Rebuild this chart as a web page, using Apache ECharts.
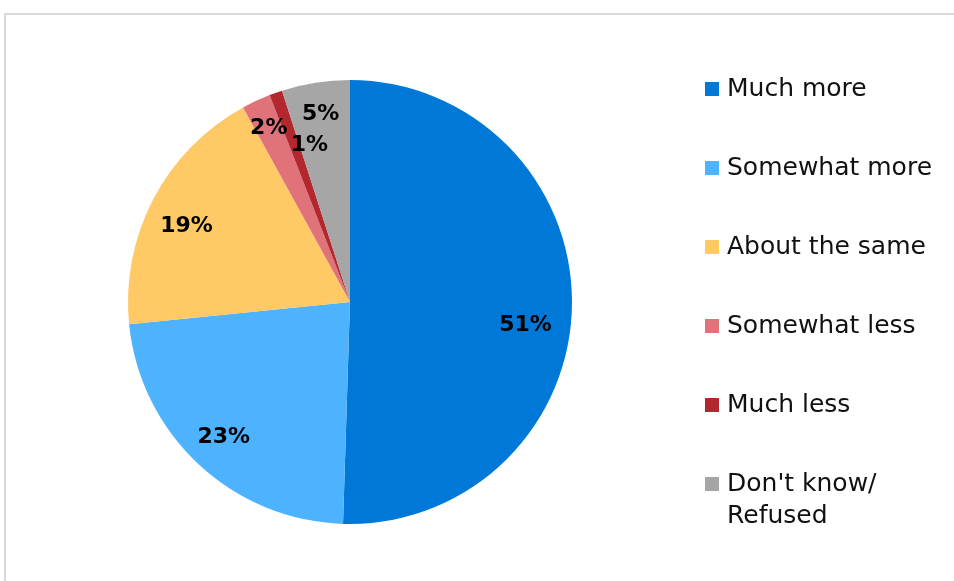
<!DOCTYPE html>
<html>
<head>
<meta charset="utf-8">
<script src="https://cdn.jsdelivr.net/npm/echarts@6/dist/echarts.min.js"></script>
<style>
  html, body { margin: 0; padding: 0; background: #fff; }
  #chart { width: 954px; height: 581px; }
</style>
</head>
<body>
<div id="chart"></div>
<script>
  // data
  var categories = ['Much more', 'Somewhat more', 'About the same', 'Somewhat less', 'Much less', "Don't know/\nRefused"];
  var values = [50.5, 22.9, 18.6, 2.1, 0.95, 4.95];
  var shownLabels = ['51%', '23%', '19%', '2%', '1%', '5%'];
  var colors = ['#0078d7', '#4db3ff', '#ffc966', '#e07379', '#b3282e', '#a6a6a6'];

  var cx = 350, cy = 302, R = 222;
  // where each label sits: distance from the centre and turn from slice middle (deg)
  var labelDist = [177, 185, 180, 192, 162, 190];
  var labelTurn = [6.6, 0, -3, 0, 5, 0];

  var myChart = echarts.init(document.getElementById('chart'));

  var legendText = {
    fontFamily: 'DejaVu Sans',
    fontSize: 25,
    color: '#111',
    lineHeight: 32,
    padding: [0, 0, 0, 3]
  };
  var legendBase = {
    orient: 'vertical',
    left: 705,
    height: 700,
    padding: 0,
    itemWidth: 14,
    itemHeight: 14,
    itemGap: 47,
    icon: 'rect',
    textStyle: legendText
  };

  var option = {
    animation: false,
    color: colors,
    graphic: [{
      type: 'rect',
      shape: { x: 5, y: 14, width: 1000, height: 700 },
      style: { fill: 'none', stroke: '#d9d9d9', lineWidth: 2 },
      silent: true
    }],
    legend: [
      echarts.util.extend({ top: 73, data: categories.slice(0, 5) }, legendBase),
      // two-line item: an empty line on top keeps "Don't know/" level with the marker
      echarts.util.extend({
        top: 436,
        data: categories.slice(5),
        formatter: function (name) { return '\u00a0\n' + name; }
      }, legendBase)
    ],
    series: [{
      type: 'pie',
      center: [cx, cy],
      radius: [0, R],
      startAngle: 90,
      clockwise: true,
      silent: true,
      data: categories.map(function (c, i) {
        return { name: c, value: values[i] };
      }),
      label: {
        show: true,
        position: 'inside',
        fontFamily: 'DejaVu Sans',
        fontWeight: 'bold',
        fontSize: 22,
        color: '#000',
        formatter: function (p) { return shownLabels[p.dataIndex]; }
      },
      labelLine: { show: false },
      labelLayout: function (p) {
        var lx = p.labelRect.x + p.labelRect.width / 2;
        var ly = p.labelRect.y + p.labelRect.height / 2;
        var a = Math.atan2(ly - cy, lx - cx) + labelTurn[p.dataIndex] * Math.PI / 180;
        var d = labelDist[p.dataIndex];
        return {
          dx: cx + d * Math.cos(a) - lx,
          dy: cy + d * Math.sin(a) - ly
        };
      }
    }]
  };

  myChart.setOption(option);
</script>
</body>
</html>
